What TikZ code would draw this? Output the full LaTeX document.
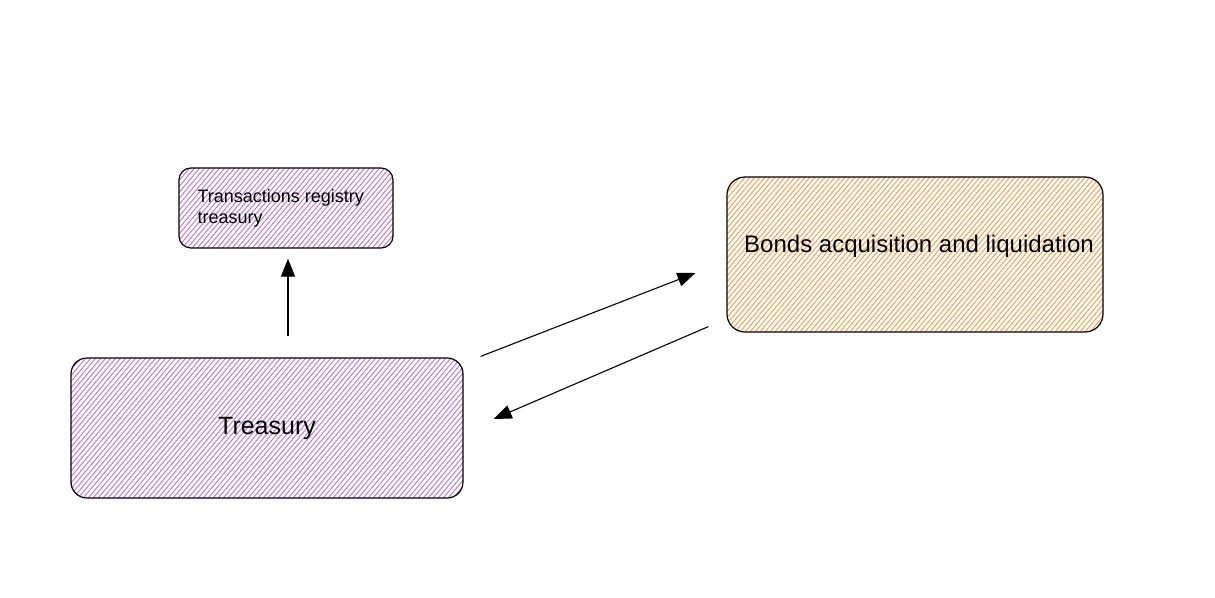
\documentclass[tikz,border=0pt]{standalone}
\usepackage{fontspec}
\setmainfont{Liberation Sans}
\usetikzlibrary{arrows.meta}

\definecolor{violetfill}{HTML}{C070DC}
\definecolor{orangefill}{HTML}{FD9A45}

\tikzset{
  sketchbox/.style={draw=black, line width=1.2pt, inner sep=0pt},
  hatch/.style={path picture={
    \foreach \d in {-420,-415,...,420}
      \draw[#1, line width=0.9pt] ([xshift=\d pt]path picture bounding box.center)
        ++(-200pt,-238pt) -- ++(400pt,476pt);
  }},
  arr/.style={-{Triangle[length=18pt,width=14pt]}, line width=1.1pt}
}

\begin{document}
\begin{tikzpicture}[x=1pt,y=-1pt]
 \useasboundingbox (0,0) rectangle (1215,597);

 % boxes
 \node[sketchbox, rounded corners=12pt, minimum width=214pt, minimum height=80pt,
   hatch=violetfill] (registry) at (286,208) {};
 \node[sketchbox, rounded corners=16pt, minimum width=392pt, minimum height=140pt,
   hatch=violetfill] (treasury) at (267,428) {};
 \node[sketchbox, rounded corners=18pt, minimum width=376pt, minimum height=155pt,
   hatch=orangefill] (bonds) at (915,254.5) {};

 % labels
 \node[anchor=west, align=left, font=\fontsize{18}{21}\selectfont] (registrytext)
   at (194,208) {Transactions registry\\treasury};
 \node[font=\fontsize{25}{28}\selectfont] (treasurytext) at (267,428) {Treasury};
 \node[font=\fontsize{24}{28}\selectfont] (bondstext) at (919,246) {Bonds acquisition and liquidation};

 % connectors
 \draw[arr] ([xshift=21pt,yshift=21pt]treasury.north) -- ([xshift=2pt,yshift=-10pt]registry.south);
 \draw[arr] ([xshift=17pt,yshift=1pt]treasury.north east) -- ([xshift=-31pt,yshift=-18.5pt]bonds.west);
 \draw[arr] ([xshift=-18pt,yshift=6pt]bonds.south west) -- ([xshift=30pt,yshift=9pt]treasury.east);
\end{tikzpicture}
\end{document}
